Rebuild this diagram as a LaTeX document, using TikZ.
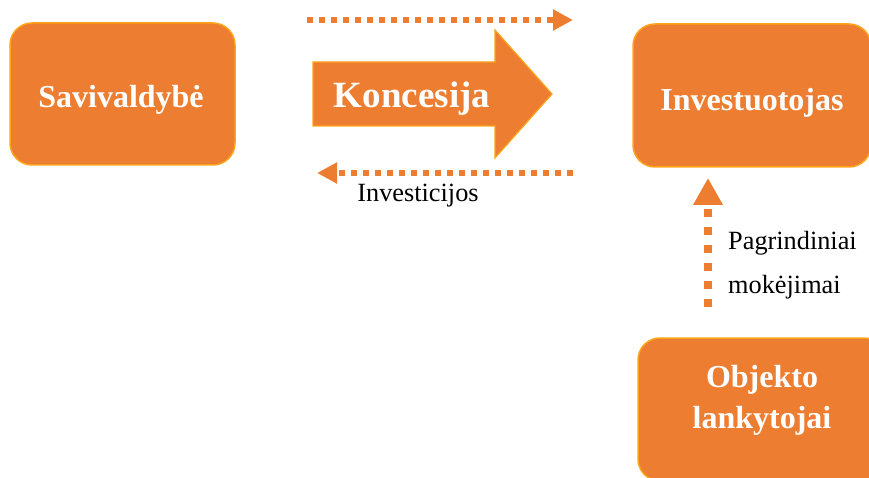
\documentclass[tikz,border=0pt]{standalone}
\usepackage{fontspec}
\setmainfont{Liberation Serif}
\usetikzlibrary{arrows.meta}
\definecolor{org}{HTML}{ED7D31}
\definecolor{orgline}{HTML}{FFA31A}
\tikzset{
  box/.style={draw=orgline, line width=1.5pt, fill=org, rounded corners=22pt, inner sep=0pt},
  boxtext/.style={text=white, font=\bfseries\fontsize{32}{41}\selectfont, inner sep=0pt, anchor=base},
  dotline/.style={draw=org, line width=6pt, dash pattern=on 6pt off 6pt,
    -{Triangle[length=20pt,width=20pt]}},
  vdotline/.style={draw=org, line width=8pt, dash pattern=on 8pt off 10pt,
    -{Triangle[length=27pt,width=28pt]}},
  lbl/.style={font=\fontsize{26.3}{30}\selectfont, inner sep=0pt}
}
\begin{document}
\begin{tikzpicture}[x=1pt,y=-1pt]
\useasboundingbox (0,0) rectangle (869,478);
\clip (0,0) rectangle (869,478);
% boxes
\node[box, minimum width=225pt, minimum height=142pt] (sav) at (122.5,94) {};
\node[boxtext] (savt) at (121,108) {Savivaldybė};
\node[box, minimum width=238pt, minimum height=143pt] (inv) at (752,95.5) {};
\node[boxtext] (invt) at (752,111) {Investuotojas};
\node[box, minimum width=248pt, minimum height=143pt] (obj) at (762,409.5) {};
\node[boxtext] (objt1) at (762,387) {Objekto};
\node[boxtext] (objt2) at (762,428) {lankytojai};
% big arrow
\draw[draw=orgline, line width=1.2pt, fill=org]
  (313,62) -- (495,62) -- (495,30) -- (552,94) -- (495,158) -- (495,126) -- (313,126) -- cycle;
\node[text=white, font=\bfseries\fontsize{37}{40}\selectfont, inner sep=0pt, anchor=base] (kon) at (412,108) {Koncesija};
% dotted arrows
\coordinate (t1) at (307,20);
\coordinate (t2) at (573,20);
\draw[dotline] (t1) -- (t2);
\coordinate (b1) at (573,173);
\coordinate (b2) at (317,173);
\draw[dotline] (b1) -- (b2);
\node[lbl, anchor=base] (invlbl) at (418,202) {Investicijos};
\coordinate (v1) at (708,307);
\coordinate (v2) at (708,178);
\draw[vdotline] (v1) -- (v2);
\node[lbl, anchor=base west] (pag) at (728,249) {Pagrindiniai};
\node[lbl, anchor=base west] (mok) at (728,293) {mokėjimai};
\end{tikzpicture}
\end{document}
